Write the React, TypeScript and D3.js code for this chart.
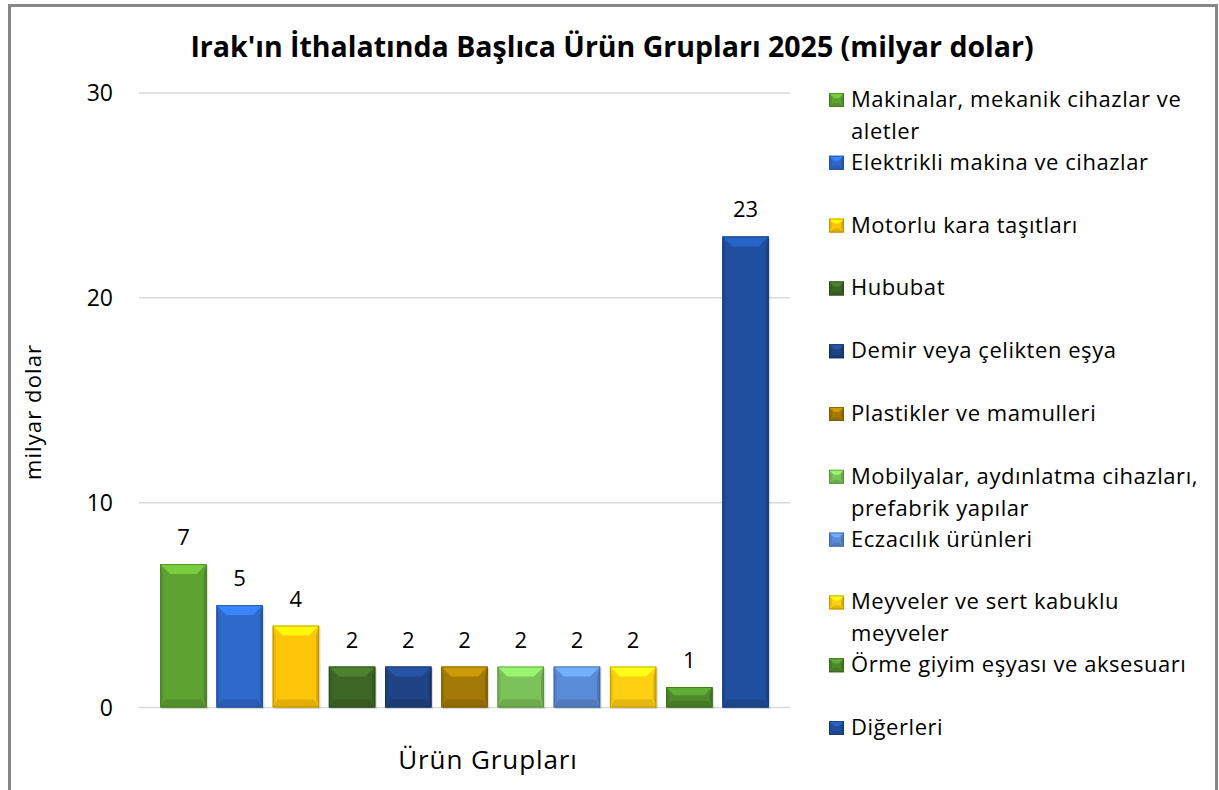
import React, { useEffect, useRef } from "react";
import * as d3 from "d3";

// categories (legend shows them; "\n" marks the legend line break)
const categories = [
  "Makinalar, mekanik cihazlar ve\naletler",
  "Elektrikli makina ve cihazlar",
  "Motorlu kara taşıtları",
  "Hububat",
  "Demir veya çelikten eşya",
  "Plastikler ve mamulleri",
  "Mobilyalar, aydınlatma cihazları,\nprefabrik yapılar",
  "Eczacılık ürünleri",
  "Meyveler ve sert kabuklu\nmeyveler",
  "Örme giyim eşyası ve aksesuarı",
  "Diğerleri",
];
const values = [7, 5, 4, 2, 2, 2, 2, 2, 2, 1, 23];
const colors = [
  "#5ea331", "#2e69cc", "#ffc508", "#3d6624", "#1f4384", "#a47a06",
  "#7cc25a", "#5a8bd6", "#ffcf12", "#4d8a2b", "#1f4f9e",
];
const yTicks = [0, 10, 20, 30];

const FONT = "'Open Sans', sans-serif";

const App = () => {
  const ref = useRef<SVGSVGElement>(null);

  useEffect(() => {
    const svg = d3.select(ref.current);
    svg.selectAll("*").remove();

    const W = 1219, H = 790;
    const plot = { left: 139, right: 790, top: 93, bottom: 707.5 };

    svg.append("rect")
      .attr("x", 0).attr("y", 0).attr("width", W).attr("height", H)
      .attr("fill", "#fff");
    // chart border
    svg.append("rect")
      .attr("x", 9.5).attr("y", 5.5).attr("width", 1207).attr("height", 820)
      .attr("fill", "none").attr("stroke", "#878787").attr("stroke-width", 3);

    const x = d3.scaleBand<number>()
      .domain(d3.range(values.length))
      .range([plot.left, plot.right])
      .paddingInner(0.173)
      .paddingOuter(0.377);
    const y = d3.scaleLinear().domain([0, 30]).range([plot.bottom, plot.top]);

    // gridlines
    svg.append("g").selectAll("line").data(yTicks).enter().append("line")
      .attr("x1", plot.left).attr("x2", plot.right)
      .attr("y1", d => y(d)).attr("y2", d => y(d))
      .attr("stroke", "#d9d9d9").attr("stroke-width", 1.5);

    // y tick labels
    svg.append("g").selectAll("text").data(yTicks).enter().append("text")
      .attr("x", 113).attr("y", d => y(d))
      .attr("dy", "0.36em")
      .attr("text-anchor", "end")
      .attr("font-family", FONT).attr("font-size", 23)
      .attr("fill", "#000")
      .text(d => d);

    // bevelled box drawer
    const bevelBox = (g: any, x0: number, y0: number, w: number, h: number, c: string, b: number) => {
      const base = d3.color(c)!;
      const x1 = x0 + w, y1 = y0 + h;
      const bs = Math.min(b, h / 2.5);
      const side = Math.min(3, bs);
      g.append("rect").attr("x", x0).attr("y", y0).attr("width", w).attr("height", h)
        .attr("fill", base.toString());
      // top bevel
      g.append("polygon")
        .attr("points", [[x0, y0], [x1, y0], [x1 - bs, y0 + bs], [x0 + bs, y0 + bs]].join(" "))
        .attr("fill", base.brighter(0.65).toString());
      // bottom bevel
      g.append("polygon")
        .attr("points", [[x0, y1], [x1, y1], [x1 - side - 2, y1 - bs * 0.8], [x0 + side + 2, y1 - bs * 0.8]].join(" "))
        .attr("fill", base.darker(0.35).toString());
      // sides
      g.append("polygon")
        .attr("points", [[x0, y0], [x0 + side, y0 + bs], [x0 + side, y1 - bs * 0.8], [x0, y1]].join(" "))
        .attr("fill", base.darker(0.25).toString());
      g.append("polygon")
        .attr("points", [[x1, y0], [x1 - side, y0 + bs], [x1 - side, y1 - bs * 0.8], [x1, y1]].join(" "))
        .attr("fill", base.darker(0.45).toString());
      g.append("rect").attr("x", x0 + 0.5).attr("y", y0 + 0.5).attr("width", w - 1).attr("height", h - 1)
        .attr("fill", "none").attr("stroke", base.darker(1.2).toString()).attr("stroke-width", 1)
        .attr("stroke-opacity", 0.6);
    };

    // bars
    const bars = svg.append("g");
    values.forEach((v, i) => {
      const g = bars.append("g");
      const bx = x(i)!;
      const top = y(v);
      // faint shadow
      g.append("rect")
        .attr("x", bx + 1.5).attr("y", top + 1.5)
        .attr("width", x.bandwidth()).attr("height", y(0) - top)
        .attr("fill", "#000").attr("opacity", 0.12);
      bevelBox(g, bx, top, x.bandwidth(), y(0) - top, colors[i], 10);
    });

    // value labels
    svg.append("g").selectAll("text").data(values).enter().append("text")
      .attr("x", (d, i) => x(i)! + x.bandwidth() / 2)
      .attr("y", d => y(d) - 19)
      .attr("text-anchor", "middle")
      .attr("font-family", FONT).attr("font-size", 22)
      .attr("fill", "#000")
      .text(d => d);

    // title
    svg.append("text")
      .attr("x", 612).attr("y", 57)
      .attr("text-anchor", "middle")
      .attr("font-family", FONT).attr("font-size", 28.5).attr("font-weight", "bold")
      .attr("fill", "#000")
      .text("Irak'ın İthalatında Başlıca Ürün Grupları 2025 (milyar dolar)");

    // axis titles
    svg.append("text")
      .attr("transform", "translate(41,412) rotate(-90)")
      .attr("text-anchor", "middle")
      .attr("font-family", FONT).attr("font-size", 22)
      .attr("letter-spacing", 1.1)
      .attr("fill", "#000")
      .text("milyar dolar");
    svg.append("text")
      .attr("x", 488).attr("y", 769)
      .attr("text-anchor", "middle")
      .attr("font-family", FONT).attr("font-size", 26)
      .attr("letter-spacing", 0.9)
      .attr("fill", "#000")
      .text("Ürün Grupları");

    // legend (y = text baseline of each entry)
    const legendY = d3.scaleLinear().domain([0, categories.length - 1]).range([107, 735]);
    const legend = svg.append("g");
    categories.forEach((c, i) => {
      const g = legend.append("g");
      const base = legendY(i);
      bevelBox(g, 829, base - 14, 15, 14, colors[i], 5);
      c.split("\n").forEach((line, k) => {
        g.append("text")
          .attr("x", 851).attr("y", base + k * 32)
          .attr("font-family", FONT).attr("font-size", 22)
          .attr("letter-spacing", 0.55)
          .attr("fill", "#000")
          .text(line);
      });
    });
  }, []);

  return (
    <svg
      ref={ref}
      width={1219}
      height={790}
      style={{ position: "absolute", left: 0, top: 0 }}
    />
  );
};

export default App;
